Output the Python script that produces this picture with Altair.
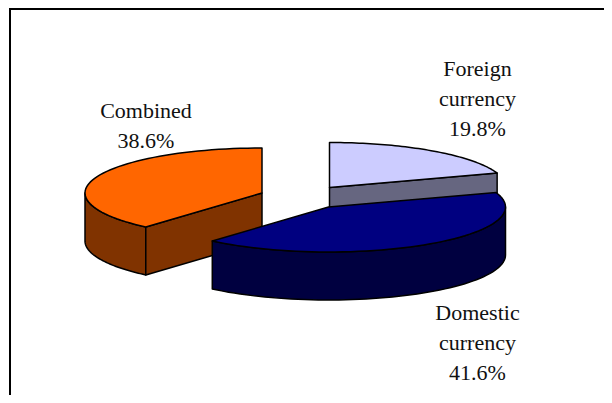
import numpy as np
import pandas as pd
import altair as alt

# Data
categories = ["Foreign currency", "Domestic currency", "Combined"]
shares = [19.8, 41.6, 38.6]
label_lines = [["Foreign", "currency"], ["Domestic", "currency"], ["Combined"]]

# Layout of the exploded 3-D pie (page pixels)
RX, RY, DEPTH = 177.0, 45.0, 48.0
centres = [(329.5, 187.5), (328.5, 207.0), (262.0, 193.0)]
top_colours = ["#CCCCFF", "#000080", "#FF6600"]
side_colours = ["#666680", "#000040", "#803300"]
label_anchor = [(477.5, 76.0), (477.5, 320.0), (146.0, 118.0)]
LINE_GAP = 30.0

x_scale = alt.Scale(domain=[8, 604], range=[0, 596], nice=False, zero=False)
y_scale = alt.Scale(domain=[8, 395], range=[0, 387], nice=False, zero=False)

edges = np.cumsum([0.0] + shares) / sum(shares) * 2 * np.pi


def rim(c, a0, a1, dy=0.0, n=60):
    t = np.linspace(a0, a1, n)
    return list(zip(c[0] + RX * np.sin(t), c[1] - RY * np.cos(t) + dy))


def polygon(points, fill):
    df = pd.DataFrame(points, columns=["x", "y"])
    df["i"] = range(len(df))
    return alt.Chart(df).mark_line(
        interpolate="linear-closed", fill=fill, stroke="black",
        strokeWidth=1.5, strokeJoin="round",
    ).encode(
        x=alt.X("x:Q", scale=x_scale, axis=None),
        y=alt.Y("y:Q", scale=y_scale, axis=None),
        order="i:Q",
    )


def top(k):
    c = centres[k]
    return polygon([c] + rim(c, edges[k], edges[k + 1]), top_colours[k])


def radial_wall(k, angle):
    c = centres[k]
    p = rim(c, angle, angle, n=1)[0]
    return polygon([c, p, (p[0], p[1] + DEPTH), (c[0], c[1] + DEPTH)], side_colours[k])


def outer_wall(k, a0, a1):
    c = centres[k]
    return polygon(rim(c, a0, a1) + rim(c, a1, a0, DEPTH), side_colours[k])


layers = [
    outer_wall(2, edges[2], 1.5 * np.pi),
    radial_wall(2, edges[2]),
    top(2),
    radial_wall(0, edges[1]),
    top(0),
    outer_wall(1, 0.5 * np.pi, edges[2]),
    top(1),
]

# Text
rows = []
for name_lines, share, (ax, ay) in zip(label_lines, shares, label_anchor):
    for j, line in enumerate(name_lines + [f"{share}%"]):
        rows.append({"x": ax, "y": ay + j * LINE_GAP, "t": line})
text = alt.Chart(pd.DataFrame(rows)).mark_text(
    font="Liberation Serif", fontSize=22, color="#111111",
    align="center", baseline="alphabetic",
).encode(
    x=alt.X("x:Q", scale=x_scale, axis=None),
    y=alt.Y("y:Q", scale=y_scale, axis=None),
    text="t:N",
)

# Chart frame
frame_top = alt.Chart(pd.DataFrame({"x": [9], "x2": [604], "y": [9]})).mark_rule(
    color="black", strokeWidth=2
).encode(x=alt.X("x:Q", scale=x_scale, axis=None), x2="x2:Q",
         y=alt.Y("y:Q", scale=y_scale, axis=None))
frame_left = alt.Chart(pd.DataFrame({"y": [8], "y2": [395], "x": [10]})).mark_rule(
    color="black", strokeWidth=2
).encode(y=alt.Y("y:Q", scale=y_scale, axis=None), y2="y2:Q",
         x=alt.X("x:Q", scale=x_scale, axis=None))

chart = alt.layer(frame_top, frame_left, *layers, text).properties(
    width=596, height=387, padding=0, autosize=alt.AutoSizeParams(type="none"),
    background="white",
).configure_view(stroke=None)

chart.save("out.html", embed_options={"renderer": "svg", "actions": False})
